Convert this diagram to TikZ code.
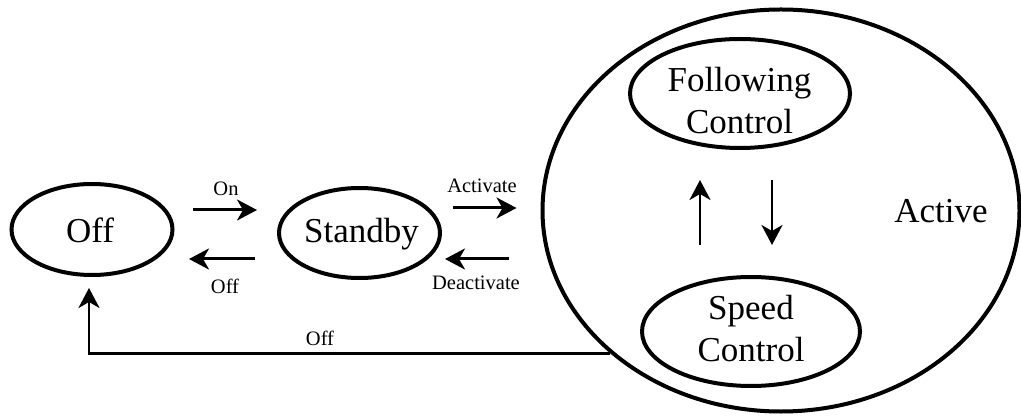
\documentclass[tikz,border=0pt]{standalone}
\usepackage{fontspec}
\setmainfont{Liberation Serif}
\usetikzlibrary{shapes.geometric,arrows.meta}

\tikzset{
  state/.style={draw, ellipse, line width=2pt, inner sep=0pt},
  bigtxt/.style={inner sep=0pt, font=\fontsize{17.5pt}{20.75pt}\selectfont},
  lbl/.style={inner sep=0pt, font=\fontsize{10.25pt}{12pt}\selectfont},
  arr/.style={line width=1.5pt,
    -{Stealth[length=10pt, width=10.5pt, inset=3pt]}},
  arrthin/.style={line width=1.3pt,
    -{Stealth[length=10pt, width=10.5pt, inset=3pt]}}
}

\begin{document}
\begin{tikzpicture}[x=0.5pt, y=-0.5pt]
  \useasboundingbox (0,0) rectangle (1021,416);

  % top-level states
  \node[state, minimum width=80.5pt, minimum height=45.5pt] (off) at (92,229.5) {};
  \node[state, minimum width=80.5pt, minimum height=45pt] (standby) at (359.5,233) {};
  \node[state, line width=2pt, minimum width=238.5pt, minimum height=201pt] (active) at (781,210.5) {};

  % sub-states of Active
  \node[state, minimum width=110pt, minimum height=54.5pt] (fc) at (740,93.5) {};
  \node[state, minimum width=109pt, minimum height=54.5pt] (sc) at (751,331.5) {};

  % state names
  \node[bigtxt, anchor=base] (offtxt) at (90,243) {Off};
  \node[bigtxt, anchor=base] (standbytxt) at (361.5,243) {Standby};
  \node[bigtxt, anchor=base] (activetxt) at (941,223) {Active};
  \node[bigtxt, anchor=base] (fctxt) at (739.5,92)
    {\setlength\tabcolsep{0pt}\begin{tabular}[t]{c}Following\\Control\end{tabular}};
  \node[bigtxt, anchor=base] (sctxt) at (751,320)
    {\setlength\tabcolsep{0pt}\begin{tabular}[t]{c}Speed\\Control\end{tabular}};

  % transitions between Off and Standby
  \draw[arr, shorten <=9.25pt, shorten >=10pt]
    ([yshift=9.75pt]off.east) -- ([yshift=9.75pt]off.east -| standby.west);
  \draw[arr, shorten <=11pt, shorten >=7.25pt]
    ([yshift=-13pt]standby.west) -- ([yshift=-13pt]standby.west -| off.east);

  % transitions between Standby and Active
  \draw[arr, shorten <=5.5pt, shorten >=12pt]
    ([yshift=12.5pt]standby.east) -- ([yshift=12.5pt]standby.east -| active.west);
  \draw[arr, shorten <=16pt, shorten >=1.5pt]
    ([yshift=-13pt]standby.east -| active.west) -- ([yshift=-13pt]standby.east);

  % transitions inside Active
  \draw[arrthin, shorten <=15pt, shorten >=15pt]
    ([xshift=-25.5pt]sc.north) -- ([xshift=-25.5pt]sc.north |- fc.south);
  \draw[arrthin, shorten <=15pt, shorten >=15pt]
    ([xshift=16pt]fc.south) -- ([xshift=16pt]fc.south |- sc.north);

  % Active back to Off
  \draw[arrthin, line width=1.35pt, shorten >=5.5pt]
    (active.220) -| ([xshift=-1.5pt]off.south);

  % transition labels
  \node[lbl, anchor=base] (lon) at (226,196) {On};
  \node[lbl, anchor=base] (loff) at (225,293) {Off};
  \node[lbl, anchor=base] (lact) at (482,193) {Activate};
  \node[lbl, anchor=base] (ldeact) at (476,290) {Deactivate};
  \node[lbl, anchor=base] (loffret) at (320,345) {Off};
\end{tikzpicture}
\end{document}
